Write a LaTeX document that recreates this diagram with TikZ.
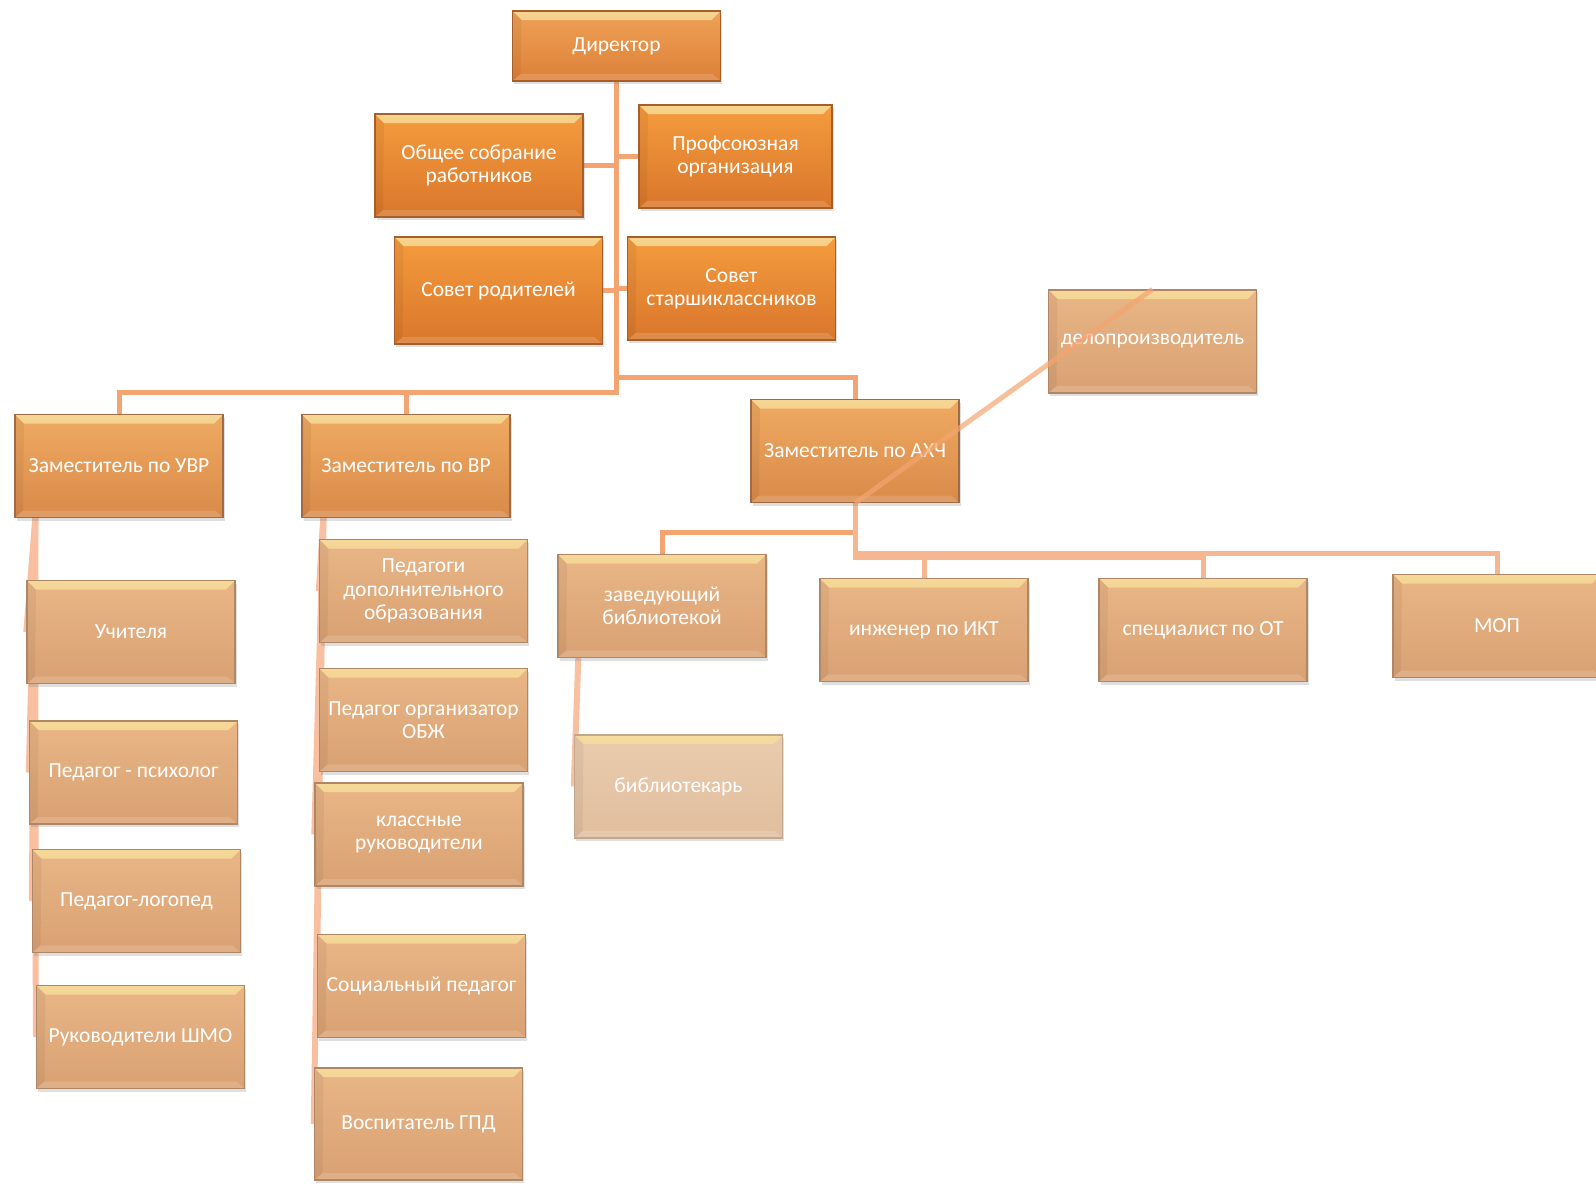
\documentclass[tikz,border=0pt]{standalone}
\usepackage{fontspec}
\setmainfont{Carlito}
\usetikzlibrary{calc,shadows,backgrounds}
\definecolor{dirtop}{HTML}{EFA257}
\definecolor{dirbot}{HTML}{DC8037}
\definecolor{onetop}{HTML}{F59C3E}
\definecolor{onebot}{HTML}{D9762B}
\definecolor{oneline}{HTML}{A65E2A}
\definecolor{twotop}{HTML}{EFAA62}
\definecolor{twobot}{HTML}{D98A49}
\definecolor{twoline}{HTML}{A06A44}
\definecolor{thrtop}{HTML}{E9B686}
\definecolor{thrbot}{HTML}{D9A173}
\definecolor{thrline}{HTML}{B08766}
\definecolor{fortop}{HTML}{EACCAE}
\definecolor{forbot}{HTML}{E0BE9E}
\definecolor{forline}{HTML}{C4A88E}
\definecolor{bevtop}{HTML}{F8DE9C}
\definecolor{trunk}{HTML}{F4A470}
\definecolor{branch}{HTML}{F6B690}
\definecolor{hangline}{HTML}{F8C0A0}

\tikzset{
    orgbox/.style n args={3}{draw=#3, line width=1.4pt, top color=#1, bottom color=#2,
        minimum width=208pt, minimum height=103pt, align=center, text=white,
        font=\fontsize{21.5}{23.5}\selectfont,
        drop shadow={shadow xshift=1.5pt, shadow yshift=-3pt, opacity=.25},
        path picture={
            \shade[top color=bevtop, bottom color=#1, opacity=.85]
                (path picture bounding box.north west) -- (path picture bounding box.north east)
                -- ([xshift=-9pt,yshift=-9pt]path picture bounding box.north east)
                -- ([xshift=9pt,yshift=-9pt]path picture bounding box.north west) -- cycle;
            \fill[white, opacity=.15]
                (path picture bounding box.south west) -- (path picture bounding box.south east)
                -- ([xshift=-8pt,yshift=7pt]path picture bounding box.south east)
                -- ([xshift=8pt,yshift=7pt]path picture bounding box.south west) -- cycle;
            \fill[black, opacity=.05]
                (path picture bounding box.north west) -- ([xshift=9pt,yshift=-9pt]path picture bounding box.north west)
                -- ([xshift=8pt,yshift=7pt]path picture bounding box.south west)
                -- (path picture bounding box.south west) -- cycle;
        }},
    boss/.style={orgbox={dirtop}{dirbot}{oneline}, minimum height=70pt},
    lvlone/.style={orgbox={onetop}{onebot}{oneline}},
    lvltwo/.style={orgbox={twotop}{twobot}{twoline}},
    lvlthr/.style={orgbox={thrtop}{thrbot}{thrline}},
    lvlfor/.style={orgbox={fortop}{forbot}{forline}},
    conn/.style={draw=trunk, line width=5pt},
    brconn/.style={draw=branch, line width=5pt},
    hang/.style={draw=hangline, line width=6pt}
}

\begin{document}
\begin{tikzpicture}[x=1pt,y=-1pt]
                \useasboundingbox (0,0) rectangle (1596,1184);
                \clip (0,0) rectangle (1596,1184);
                \node[boss] (dir) at (616.5,46) {Директор};
                \node[lvlone] (sobr) at (479,165.5) {Общее собрание\\работников};
                \node[lvlone, minimum width=193pt] (prof) at (735.5,156.5) {Профсоюзная\\организация};
                \node[lvlone, minimum height=107pt] (srod) at (498.5,290.5) {Совет родителей};
                \node[lvlone] (sstar) at (731.5,288.5) {Совет\\старшиклассников};
                \node[lvltwo] (uvr) at (119,466) {Заместитель по УВР};
                \node[lvltwo] (vr) at (406,466) {Заместитель по ВР};
                \node[lvltwo] (axch) at (855,451) {Заместитель по АХЧ};
                \node[lvlthr] (delo) at (1152.5,341.5) {делопроизводитель};
                \node[lvlthr] (zav) at (662,606) {заведующий\\библиотекой};
                \node[lvlthr] (ing) at (924,630) {инженер по ИКТ};
                \node[lvlthr] (spec) at (1203,630) {специалист по ОТ};
                \node[lvlthr] (mop) at (1497,626) {МОП};
                \node[lvlthr] (uch) at (131,632) {Учителя};
                \node[lvlthr] (psi) at (133.5,772.5) {Педагог - психолог};
                \node[lvlthr] (logo) at (136.5,901) {Педагог-логопед};
                \node[lvlthr] (shmo) at (140.5,1037) {Руководители ШМО};
                \node[lvlthr] (pdo) at (423.5,591) {Педагоги\\дополнительного\\образования};
                \node[lvlthr] (obzh) at (423.5,720) {Педагог организатор\\ОБЖ};
                \node[lvlthr] (klass) at (419,834.5) {классные\\руководители};
                \node[lvlthr] (soc) at (421.5,986) {Социальный педагог};
                \node[lvlthr, minimum height=112pt] (gpd) at (418.5,1124) {Воспитатель ГПД};
                \node[lvlfor] (bib) at (678.5,786.5) {библиотекарь};
                \coordinate (jl) at (0,392);
                \coordinate (jr) at (0,377);
                \begin{scope}[on background layer]
                \fill[white] (0,0) rectangle (1596,1184);
                \draw[conn] (dir.south) -- (dir.south |- jl) -| (uvr.north);
                \draw[conn] (dir.south |- jl) -| (vr.north);
                \draw[conn] (dir.south |- jr) -| (axch.north);
                \draw[conn] (sobr.east) -- (sobr.east -| dir.south);
                \draw[conn] (prof.west) -- (prof.west -| dir.south);
                \draw[conn] (srod.east) -- (srod.east -| dir.south);
                \draw[conn] (sstar.west) -- (sstar.west -| dir.south);
                \draw[conn] (axch.south) -- ++(0,29) -| (zav.north);
                \draw[brconn] (axch.south) -- ++(0,54) -| (ing.north);
                \draw[brconn] (axch.south) -- ++(0,54) -| (spec.north);
                \draw[brconn] (axch.south) -- ++(0,50) -| (mop.north);
                \foreach \kid in {uch,psi,logo,shmo}
                    \draw[hang] ([xshift=21pt]uvr.south west) -- (\kid.west);
                \foreach \kid in {pdo,obzh,klass,soc,gpd}
                    \draw[hang] ([xshift=22pt]vr.south west) -- (\kid.west);
                \draw[hang] ([xshift=21pt]zav.south west) -- (bib.west);
                \end{scope}
                \draw[draw=trunk, line width=5pt, opacity=.7] (axch.south) -- (delo.north);
            \end{tikzpicture}
\end{document}
